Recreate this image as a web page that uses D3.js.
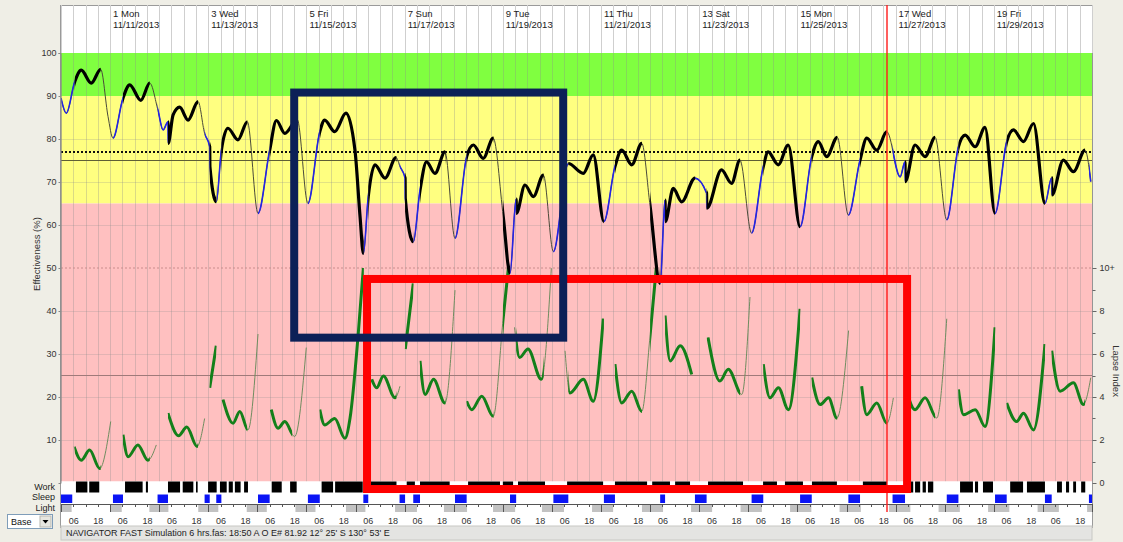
<!DOCTYPE html>
<html>
<head>
<meta charset="utf-8">
<script src="https://cdn.jsdelivr.net/npm/d3@7"></script>
<style>
  html, body { margin: 0; padding: 0; background: #efeee6; }
  svg { display: block; font-family: "Liberation Sans", Arial, sans-serif; }
</style>
</head>
<body>
<svg id="chart" width="1123" height="542"></svg>
<script>
// ---------------------------------------------------------------
// Schedule data, hours counted from 00:00 Sun 11/10/2013 (21 days)
// ---------------------------------------------------------------
const spanHours = 504;

const headerDays   = [1, 3, 5, 7, 9, 11, 13, 15, 17, 19];
const headerNames  = ["Mon", "Wed", "Fri", "Sun", "Tue", "Thu", "Sat", "Mon", "Wed", "Fri"];
const headerDates  = ["11/11/2013", "11/13/2013", "11/15/2013", "11/17/2013", "11/19/2013",
                      "11/21/2013", "11/23/2013", "11/25/2013", "11/27/2013", "11/29/2013"];

const effTicks    = [10, 20, 30, 40, 50, 60, 70, 80, 90, 100];
const lapseTicks  = [0, 2, 4, 6, 8, 10];
const lapseMinor  = [1, 3, 5, 7, 9];
const lapseLabels = ["0", "2", "4", "6", "8", "10+"];

// Effectiveness bands (%)
const bandGreen  = [90, 100];
const bandYellow = [65, 90];
const bandPink   = [0, 65];

// Reference levels
const criterionDotted = 77;
const criterionSolid  = 75;
const effDashed       = 50;
const lapseRef        = 5;
const currentHour     = 403.8;

// Effectiveness (%) [hour, value]; repeated hours mark sleep-inertia steps
const effectiveness = [
  [0,89.5],[2.6,86],[6.7,93.3],[9.9,96],[14.8,93],[19.4,96.2],[23,85.2],[25.4,80.2],
  [30.3,89.5],[33.6,92.6],[39,89],[43.4,93],[47.4,86.7],[49.9,82.1],[52.3,84],[52.4,79],
  [54.8,85.6],[58,87.4],[62.1,84.4],[67,88.7],[70.2,81.3],[72.7,78.2],[72.8,73.6],[75.9,65.4],
  [78.4,77.4],[81.6,82.5],[86.5,79.8],[91.1,84],[96.3,62.7],[102,77.4],[105.3,84.3],[109.4,81.3],
  [115.5,84.5],[120.7,65],[126.5,81.7],[128.9,84.4],[133.8,81.7],[139.3,86],[143.7,77.4],[146.2,61.9],
  [147.8,53.4],[150.2,66.6],[153.5,74],[158.4,70.9],[163.8,75.7],[165.7,73.6],[168.2,70.9],[168.3,66.2],
  [172.2,56.1],[175.5,68.1],[178.7,74.7],[182.8,72],[187.7,77],[192.6,56.9],[198.3,75.9],[201.6,78.6],
  [206.4,75.5],[211.3,80.2],[216.2,61.9],[219.5,48.8],[222.5,66],[222.6,62.7],[226.8,69.3],[230.9,66.6],
  [235.8,71.6],[240.7,53.8],[248,74.3],[255.3,72],[260.2,76.3],[265.4,60.8],[270.8,73.6],[274.1,77.4],
  [279,74],[283.9,79],[288,64.3],[292.9,46.4],[295.3,65.8],[295.4,60.8],[299.3,68.5],[303.4,65.4],
  [309.9,70.9],[315.6,67.4],[315.7,63.9],[322.9,72.8],[327.8,69.7],[331.9,75.1],[337.6,58.1],[343.3,73.6],
  [345.7,77],[350.6,74],[355.5,78.6],[361.3,59.6],[367,75.9],[370.2,79.4],[374.3,75.9],[379.5,80.4],
  [384.9,62.3],[390.6,75.1],[393.9,80.2],[398.8,77.4],[403.7,81.7],[410.2,71.2],[412.6,74.7],[412.7,70.1],
  [417.5,78.6],[422.4,75.9],[427.3,80.4],[433,61.2],[438.7,78.2],[442,80.9],[446.9,78.2],[451.7,82.7],
  [456.6,62.7],[462.3,79.4],[465.6,82.1],[470.5,79.4],[475.4,83.6],[481,65],[484.3,71],[484.4,67],
  [490,75.1],[494.9,72.4],[500.6,77.4],[503.4,70.1]
];

// Lapse index [hour, value]; null = asleep (no value shown)
const lapseIndex = [
  [6.4,1.69],[9.9,1.06],[14,1.53],[18.9,0.67],[24.3,2.86], null,
  [30.3,2.24],[32.8,1.22],[37.6,1.77],[42.5,1.06],[46.6,1.77], null,
  [52.3,3.25],[57.5,2.2],[61.5,2.6],[66.5,1.7],[70.2,3.0], null,
  [72.7,4.43],[75.9,6.38], null,
  [79.2,3.88],[84.1,2.78],[87.4,3.33],[91.4,2.47],[96.3,6.93], null,
  [102.8,3.41],[106.1,2.55],[109.4,2.86],[114.2,2.16],[119.9,6.3], null,
  [126.5,3.41],[128.9,2.7],[133.8,3.0],[138.8,2.08],[141.3,3.02],[145.3,6.93],[147.8,10], null,
  [151.9,4.82],[154.3,4.43],[157.6,4.98],[163.3,3.96],[165.7,4.5], null,
  [168.3,6.23],[172.2,9.28], null,
  [175.5,5.68],[178,4.12],[182.1,4.82],[187.7,3.72],[192.6,8.97], null,
  [198.3,3.8],[200.8,3.41],[205.7,4.04],[211.3,3.1],[216.2,7.71],[218.7,10], null,
  [221.7,7.24],[224.2,5.84],[228.3,6.23],[234.8,4.82],[239.7,9.99], null,
  [246.4,6.15],[248.8,4.19],[255.3,4.82],[260.2,3.8],[265.1,7.64], null,
  [270.8,5.53],[274.1,3.72],[279,4.27],[283.9,3.33],[288,6.9],[291,10], null,
  [295.3,7.79],[297.8,5.68],[302.7,6.38],[308.3,5.05], null,
  [316.3,6.77],[322.1,4.74],[326.2,5.29],[332.8,4.12],[336.8,8.65], null,
  [343.3,5.53],[346.6,3.96],[350.7,4.43],[355.6,3.41],[361.3,8.1], null,
  [367,4.9],[371.1,3.65],[375.2,3.96],[379.3,3.02],[385,7.09], null,
  [391.4,4.5],[393.9,3.18],[398.8,3.72],[403.7,2.78],[406.9,3.96], null,
  [412.7,4.5],[417.5,3.41],[422.4,3.96],[428.1,3.02],[433,7.64], null,
  [438.7,4.35],[441.2,3.18],[446.9,3.41],[451.7,2.63],[456.6,7.24], null,
  [462.3,3.72],[467.2,2.86],[470.5,3.25],[475.4,2.47],[481,6.46], null,
  [484.3,6.15],[488.4,4.27],[494.9,4.66],[499.8,3.65],[503.4,4.9]
];

// Duty periods (drawn heavy on both curves)
const dutyPeriods = [
  [6.7,19.4],[30.3,43.4],[52.3,67],[72.7,75.9],[78.4,91.1],[102,113],[126.5,148],[150.2,164],
  [168.2,172.2],[175.5,188],[198.3,211.5],[216,219.5],[222.5,236],[248,265.4],[270.8,284],
  [288,292.9],[295.3,310],[315.6,332],[343.3,361.3],[367,379.5],[390.6,403.7],[412.6,427.3],
  [438.7,456.6],[462.3,481],[484.3,500.6]
];

// Work row blocks
const workBlocks = [
  [7.3,12.9],[13.8,18.7],[31.3,39.9],[41.5,42.5],[52.3,58.2],[59.5,64.7],[66,66.8],[71.9,76.1],
  [77.7,81],[82,84],[85,87.8],[89.5,91.4],[103,107.9],[112,115.2],[127.4,133],[134,147.5],
  [151,164],[169,173],[175.5,190],[199,214.6],[216,221],[223.4,236.6],[247.4,265],[270.8,286.5],
  [289,297.7],[300.2,307.5],[316.3,333.4],[343.2,350],[353.9,362.7],[367.1,379.3],[392,403.8],
  [415,416.6],[417.5,420],[421.2,422.8],[423.8,426.4],[439.5,445.8],[446.8,448.3],[450.7,455.6],
  [464,470.3],[472.2,481],[486.9,489.3],[491.3,492.8],[494.8,496.2],[498.7,500.7]
];

// Sleep periods
const sleepBlocks = [
  [0,5.5],[25.4,30.3],[47.2,52.3],[70.2,72.7],[75.9,78.4],[96.3,102],[120.7,126.5],[147.8,150.2],
  [165.5,168.2],[172.2,175.5],[192.6,198.3],[219.5,222.5],[240.7,248],[265.4,270.8],[292.9,295.3],
  [309.9,315.6],[337.6,343.3],[361.3,367],[384.9,390.6],[406.5,412.6],[433,438.7],[456.6,462.3],
  [481,484.3],[502.5,504]
];

// Darkness periods (light row)
const darkBlocks = [
  [0.3,5.2],[24,29.7],[43.2,52.5],[67.1,76.9],[90.8,100.6],[114.6,124.4],[139.3,148.8],[163.3,174],
  [187.2,198.5],[211.2,222],[235.1,245.9],[259.6,269.9],[284,294.3],[308,318.3],[332.2,342.6],
  [356.4,366.8],[380.6,391],[404.8,415.2],[429,439.4],[453.2,463.6],[477.4,487.8],[501.6,504]
];

// Highlight boxes (in data units)
const boxSleepDebt = { h0: 114, h1: 245.5, eff0: 33.8, eff1: 90.8 };
const boxLapse     = { h0: 149.6, h1: 413.6, lapse0: -0.28, lapse1: 9.49 };

const statusText = "NAVIGATOR FAST Simulation 6 hrs.fas: 18:50 A O E# 81.92  12\u00B0 25' S 130\u00B0 53' E";

// ---------------------------------------------------------------
const svg = d3.select("#chart");
const defs = svg.append("defs");

const x  = d3.scaleLinear().domain([0, spanHours]).range([61, 1092]);
const yE = d3.scaleLinear().domain([0, 100]).range([483, 53]);
const yL = d3.scaleLinear().domain([0, 10]).range([483, 268]);

const frameTop = 5, plotBottom = 481.5;
const workY = 481.5, workH = 11;
const sleepY = 494.5, sleepH = 8.5;
const lightBase = 504, lightY = 505, lightH = 7;

// frame background
svg.append("rect").attr("x", 60.5).attr("y", frameTop + 0.5)
  .attr("width", x(spanHours) - 60).attr("height", 522)
  .attr("fill", "#fff").attr("stroke", "#9a9a9a");

// status bar
svg.append("rect").attr("x", 61).attr("y", 526).attr("width", x(spanHours) - 61).attr("height", 14)
  .attr("fill", "#e4e4e2").attr("stroke", "#c8c8c4");
svg.append("text").attr("x", 66).attr("y", 535.5).attr("font-size", 9).attr("fill", "#222")
  .text(statusText);

// bands
const bands = [[bandGreen, "#80ff40"], [bandYellow, "#ffff80"], [bandPink, "#ffc0c0"]];
svg.append("g").selectAll("rect").data(bands).join("rect")
  .attr("x", x(0)).attr("width", x(spanHours) - x(0))
  .attr("y", d => yE(d[0][1]))
  .attr("height", d => Math.min(yE(d[0][0]), plotBottom) - yE(d[0][1]))
  .attr("fill", d => d[1]);

// grid: 6-hour vertical lines
const sixHours = d3.range(0, spanHours + 1, 6);
svg.append("g").selectAll("line.hdr").data(sixHours).join("line")
  .attr("x1", d => Math.round(x(d)) + 0.5).attr("x2", d => Math.round(x(d)) + 0.5)
  .attr("y1", frameTop).attr("y2", yE(100))
  .attr("stroke", "#cfcfcf");
svg.append("g").selectAll("line.grd").data(sixHours).join("line")
  .attr("x1", d => Math.round(x(d)) + 0.5).attr("x2", d => Math.round(x(d)) + 0.5)
  .attr("y1", yE(100)).attr("y2", plotBottom)
  .attr("stroke", "rgba(140,140,140,0.32)");
// horizontal grid at every 10 %
svg.append("g").selectAll("line").data(effTicks.filter(v => v !== 50 && v !== 100 && v !== 90))
  .join("line")
  .attr("x1", x(0)).attr("x2", x(spanHours))
  .attr("y1", d => Math.round(yE(d)) + 0.5).attr("y2", d => Math.round(yE(d)) + 0.5)
  .attr("stroke", "rgba(140,140,140,0.25)");

// header day labels
const hdr = svg.append("g").attr("font-size", 9.5).attr("fill", "#222");
hdr.selectAll("text.d").data(headerDays).join("text")
  .attr("x", d => x(d * 24) + 3).attr("y", 17)
  .text((d, i) => d + " " + headerNames[i]);
hdr.selectAll("text.dt").data(headerDates).join("text")
  .attr("x", (d, i) => x(headerDays[i] * 24) + 3).attr("y", 27.5)
  .text(d => d);

// reference lines
svg.append("line").attr("x1", x(0)).attr("x2", x(spanHours))
  .attr("y1", yE(effDashed)).attr("y2", yE(effDashed))
  .attr("stroke", "#c98c8c").attr("stroke-dasharray", "2,2");
svg.append("line").attr("x1", x(0)).attr("x2", x(spanHours))
  .attr("y1", yL(lapseRef)).attr("y2", yL(lapseRef))
  .attr("stroke", "#a07a7a").attr("stroke-width", 1);
svg.append("line").attr("x1", x(0)).attr("x2", x(spanHours))
  .attr("y1", yE(criterionSolid)).attr("y2", yE(criterionSolid))
  .attr("stroke", "#5f5f35").attr("stroke-width", 1.2);
svg.append("line").attr("x1", x(0)).attr("x2", x(spanHours))
  .attr("y1", yE(criterionDotted)).attr("y2", yE(criterionDotted))
  .attr("stroke", "#111").attr("stroke-width", 2).attr("stroke-dasharray", "2,2");

// clip paths for line emphasis
function spanClip(id, spans) {
  defs.append("clipPath").attr("id", id).selectAll("rect").data(spans).join("rect")
    .attr("x", d => x(d[0])).attr("width", d => x(d[1]) - x(d[0]))
    .attr("y", 0).attr("height", 542);
}
spanClip("clip-duty", dutyPeriods);
spanClip("clip-sleep", [[0, 6.7]].concat(sleepBlocks.slice(1)));
defs.append("clipPath").attr("id", "clip-plot").append("rect")
  .attr("x", x(0)).attr("y", yE(100)).attr("width", x(spanHours) - x(0)).attr("height", plotBottom - yE(100));

const effLine = d3.line().x(d => x(d[0])).y(d => yE(d[1])).curve(d3.curveMonotoneX);
const lapseLine = d3.line().defined(d => d !== null)
  .x(d => x(d[0])).y(d => yL(d[1])).curve(d3.curveMonotoneX);

const plot = svg.append("g").attr("clip-path", "url(#clip-plot)");

// lapse index curve
plot.append("path").attr("d", lapseLine(lapseIndex)).attr("fill", "none")
  .attr("stroke", "#6f8c5f").attr("stroke-width", 1);
plot.append("g").attr("clip-path", "url(#clip-duty)")
  .append("path").attr("d", lapseLine(lapseIndex)).attr("fill", "none")
  .attr("stroke", "#13801a").attr("stroke-width", 3).attr("stroke-linejoin", "round");

// effectiveness curve
plot.append("path").attr("d", effLine(effectiveness)).attr("fill", "none")
  .attr("stroke", "#4a4a3a").attr("stroke-width", 1);
plot.append("g").attr("clip-path", "url(#clip-sleep)")
  .append("path").attr("d", effLine(effectiveness)).attr("fill", "none")
  .attr("stroke", "#2424e6").attr("stroke-width", 1.6);
plot.append("g").attr("clip-path", "url(#clip-duty)")
  .append("path").attr("d", effLine(effectiveness)).attr("fill", "none")
  .attr("stroke", "#000").attr("stroke-width", 3.2).attr("stroke-linejoin", "round");

// work / sleep / light rows
svg.append("rect").attr("x", x(0)).attr("y", workY).attr("width", x(spanHours) - x(0)).attr("height", workH)
  .attr("fill", "#fff");
svg.append("g").selectAll("rect").data(workBlocks).join("rect")
  .attr("x", d => x(d[0])).attr("width", d => x(d[1]) - x(d[0]))
  .attr("y", workY).attr("height", workH).attr("fill", "#000");
svg.append("g").selectAll("rect").data(sleepBlocks).join("rect")
  .attr("x", d => x(d[0])).attr("width", d => x(d[1]) - x(d[0]))
  .attr("y", sleepY).attr("height", sleepH).attr("fill", "#0a14f5");
svg.append("g").selectAll("rect").data(darkBlocks).join("rect")
  .attr("x", d => x(d[0])).attr("width", d => x(d[1]) - x(d[0]))
  .attr("y", lightY).attr("height", lightH).attr("fill", "#c2c2c2");
svg.append("line").attr("x1", x(0)).attr("x2", x(spanHours))
  .attr("y1", lightBase + 0.5).attr("y2", lightBase + 0.5).attr("stroke", "#555");
svg.append("g").selectAll("line").data(sixHours).join("line")
  .attr("x1", d => Math.round(x(d)) + 0.5).attr("x2", d => Math.round(x(d)) + 0.5)
  .attr("y1", lightBase).attr("y2", d => d % 24 === 0 ? lightBase + 8 : lightBase + 3)
  .attr("stroke", "#555");

// row labels
svg.append("g").attr("font-size", 9).attr("fill", "#222").attr("text-anchor", "end")
  .selectAll("text").data(["Work", "Sleep", "Light"]).join("text")
  .attr("x", 55).attr("y", (d, i) => 489.5 + i * 10.5).text(d => d);

// bottom time labels
const timeAxis = d3.axisBottom(x)
  .tickValues(d3.range(6, spanHours, 12))
  .tickFormat(d => d % 24 === 6 ? "06" : "18")
  .tickSize(0).tickPadding(0);
const ta = svg.append("g").attr("transform", "translate(0,518)").call(timeAxis);
ta.select(".domain").remove();
ta.selectAll("text").attr("font-size", 9).attr("fill", "#333")
  .attr("font-family", "Liberation Sans, Arial, sans-serif");

// left axis
const leftAxis = d3.axisLeft(yE).tickValues(effTicks).tickSize(2).tickPadding(2);
const la = svg.append("g").attr("transform", "translate(60.5,0)").call(leftAxis);
la.select(".domain").attr("stroke", "#888");
la.selectAll(".tick line").attr("stroke", "#888");
la.selectAll("text").attr("font-size", 9).attr("fill", "#333")
  .attr("font-family", "Liberation Sans, Arial, sans-serif");
svg.append("text").attr("transform", "translate(40,254) rotate(-90)")
  .attr("text-anchor", "middle").attr("font-size", 9.5).attr("fill", "#333")
  .text("Effectiveness (%)");

// right axis (lapse index)
const rightAxis = d3.axisRight(yL).tickValues(lapseTicks)
  .tickFormat((d, i) => lapseLabels[i]).tickSize(4).tickPadding(3);
const ra = svg.append("g").attr("transform", "translate(1092.5,0)").call(rightAxis);
ra.select(".domain").remove();
ra.selectAll(".tick line").attr("stroke", "#666");
ra.selectAll("text").attr("font-size", 9).attr("fill", "#333")
  .attr("font-family", "Liberation Sans, Arial, sans-serif");
ra.selectAll("line.minor").data(lapseMinor).join("line").attr("class", "minor")
  .attr("x1", 0).attr("x2", 3)
  .attr("y1", d => Math.round(yL(d)) + 0.5).attr("y2", d => Math.round(yL(d)) + 0.5)
  .attr("stroke", "#666");
svg.append("text").attr("transform", "translate(1113,371) rotate(90)")
  .attr("text-anchor", "middle").attr("font-size", 9.5).attr("fill", "#333")
  .text("Lapse Index");

// current-time marker
svg.append("line").attr("x1", Math.round(x(currentHour))).attr("x2", Math.round(x(currentHour)))
  .attr("y1", frameTop).attr("y2", lightY + lightH)
  .attr("stroke", "#ff1a1a").attr("stroke-width", 1.4);

// profile selector
const sel = svg.append("g").attr("transform", "translate(7,514)");
sel.append("rect").attr("x", 0.5).attr("y", 0.5).attr("width", 45).attr("height", 14)
  .attr("fill", "#fff").attr("stroke", "#7f9db9");
sel.append("text").attr("x", 4).attr("y", 11).attr("font-size", 9).attr("fill", "#111").text("Base");
sel.append("rect").attr("x", 33).attr("y", 2).attr("width", 11).attr("height", 11)
  .attr("fill", "#e6e6e0").attr("stroke", "#b8b8b0");
sel.append("path").attr("d", "M35.5,6 L41.5,6 L38.5,9.5 Z").attr("fill", "#000");

// highlight boxes
svg.append("rect")
  .attr("x", x(boxLapse.h0)).attr("y", yL(boxLapse.lapse1))
  .attr("width", x(boxLapse.h1) - x(boxLapse.h0))
  .attr("height", yL(boxLapse.lapse0) - yL(boxLapse.lapse1))
  .attr("fill", "none").attr("stroke", "#ff0000").attr("stroke-width", 8);
svg.append("rect")
  .attr("x", x(boxSleepDebt.h0)).attr("y", yE(boxSleepDebt.eff1))
  .attr("width", x(boxSleepDebt.h1) - x(boxSleepDebt.h0))
  .attr("height", yE(boxSleepDebt.eff0) - yE(boxSleepDebt.eff1))
  .attr("fill", "none").attr("stroke", "#0c2057").attr("stroke-width", 8);
</script>
</body>
</html>
